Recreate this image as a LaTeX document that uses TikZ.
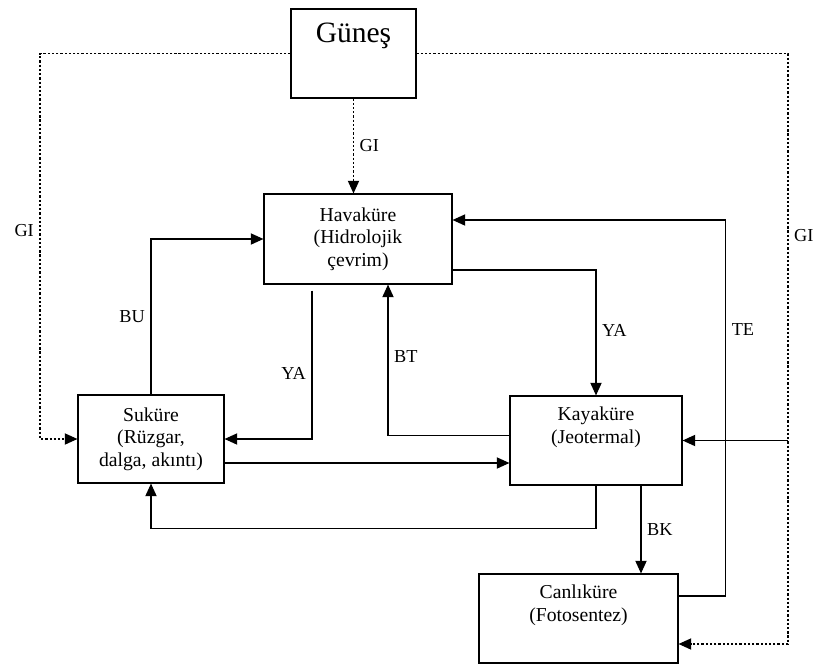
\documentclass[tikz,border=0pt]{standalone}
\usepackage{fontspec}
\setmainfont{Liberation Serif}
\usetikzlibrary{arrows.meta, positioning, calc}
\tikzset{
    sphere/.style={rectangle, draw=black, line width=0.8pt, align=center, font=\fontsize{14}{16}\selectfont},
    boxtext/.style={align=center, inner sep=0pt, font=\fontsize{14}{16}\selectfont},
    flow/.style={line width=0.8pt, -{Triangle[length=9pt, width=8pt]}},
    radiation/.style={flow, dash pattern=on 1.6pt off 1.4pt},
    lbl/.style={font=\fontsize{13}{15}\selectfont, inner sep=4pt}
}

\begin{document}
\begin{tikzpicture}[x=0.025cm, y=-0.025cm]
    \useasboundingbox (0,0) rectangle (824,665);

    % spheres
    \node (sun) [sphere, minimum width=3.125cm, minimum height=2.225cm] at (353.5,53.5) {};
    \node (suntext) [boxtext, font=\fontsize{21}{24}\selectfont, below=10pt of sun.north] {Güneş};
    \node (hava) [sphere, minimum width=4.7cm, minimum height=2.25cm] at (358,239) {Havaküre\\(Hidrolojik\\çevrim)};
    \node (su) [sphere, minimum width=3.65cm, minimum height=2.2cm] at (151,439) {Suküre\\(Rüzgar,\\dalga, akıntı)};
    \node (kaya) [sphere, minimum width=4.3cm, minimum height=2.225cm] at (596,440.5) {};
    \node (kayatext) [boxtext, below=8pt of kaya.north] {Kayaküre\\(Jeotermal)};
    \node (canli) [sphere, minimum width=4.975cm, minimum height=2.225cm] at (578.5,618.5) {};
    \node (canlitext) [boxtext, below=8pt of canli.north] {Canlıküre\\(Fotosentez)};

    \coordinate (gileft) at (40,0);
    \coordinate (giright) at (788,0);
    \coordinate (canlidot) at ($(canli.east)+(0,25.5)$);
    \coordinate (yaout) at ($(hava.south)+(-46,6)$);
    \coordinate (btin) at ($(hava.south)+(30,0)$);
    \coordinate (suout) at ($(su.east)+(0,24)$);
    \coordinate (bkout) at ($(kaya.south)+(45,0)$);

    % solar input
    \draw [radiation] (sun.south) -- (sun.south |- hava.north) node [lbl, midway, right] {GI};
    \draw [radiation] (sun.west) -| node [lbl, pos=0.73, left] {GI} (gileft |- su.west) -- (su.west);
    \draw [radiation] (sun.east) -| node [lbl, pos=0.654, right] {GI} (giright |- canlidot) -- (canlidot);
    \draw [flow] (giright |- kaya.east) -- (kaya.east);

    % exchanges
    \draw [flow] (su.north) |- node [lbl, pos=0.25, left] {BU} (hava.west);
    \draw [flow] (yaout) |- node [lbl, pos=0.28, left] {YA} (su.east);
    \draw [flow] ($(kaya.west)+(0,-5)$) -| node [lbl, pos=0.76, right] {BT} (btin);
    \draw [flow] (suout) -- (suout -| kaya.west);
    \draw [flow] (kaya.south) -- ++(0,43) -| (su.south);
    \draw [flow] ($(hava.east)+(0,31)$) -| node [lbl, pos=0.74, right] {YA} (kaya.north);
    \draw [flow] ($(canli.east)+(0,-22.5)$) -- ++(47,0) |- node [lbl, pos=0.354, right] {TE} ($(hava.east)+(0,-19)$);
    \draw [flow] (bkout) -- (bkout |- canli.north) node [lbl, midway, right] {BK};
\end{tikzpicture}
\end{document}
